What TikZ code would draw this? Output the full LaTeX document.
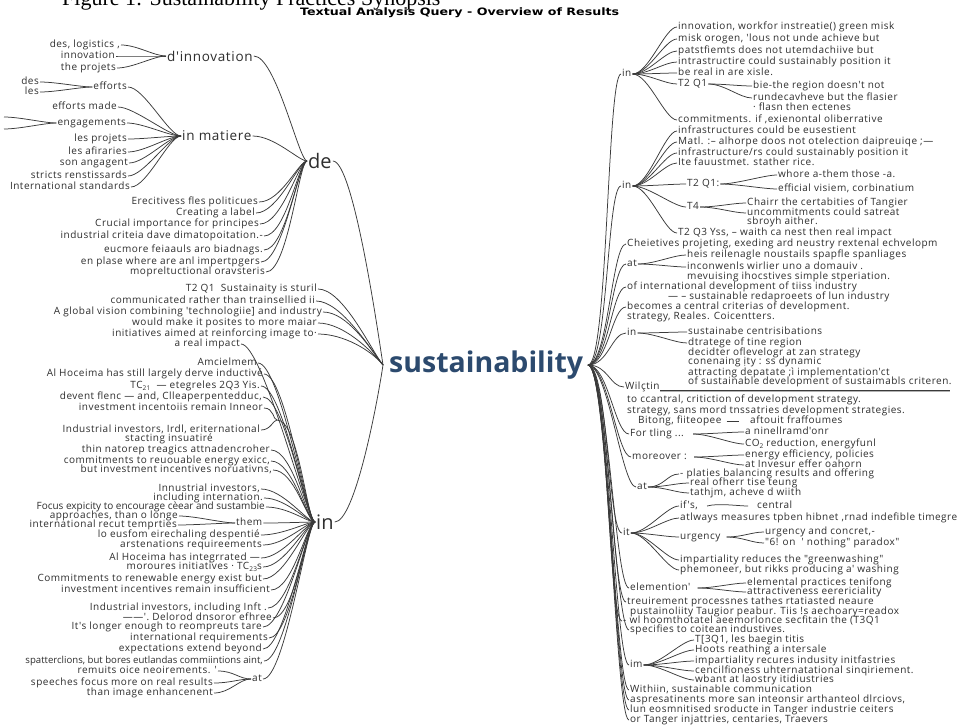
\documentclass[tikz,border=0pt]{standalone}
\usepackage{graphicx}
\usepackage{fontspec}
\setmainfont{Open Sans}
\newfontfamily\serifttl{Liberation Serif}
\newfontfamily\txfont{Open Sans}[LetterSpace=5.0]
\newfontfamily\txnarrow{Open Sans}
\newfontfamily\subfont{DejaVu Sans}
\definecolor{txtc}{HTML}{2E2E2E}
\definecolor{linec}{HTML}{3A3A3A}
\definecolor{susc}{HTML}{2C4A6E}
\newcommand\txs{\txfont\fontsize{10}{11}\selectfont}
\newcommand\subsc[1]{\raisebox{-0.35ex}{\fontsize{6.5}{7}\selectfont #1}}
\tikzset{
 tx/.style={font=\txs, text=txtc, inner sep=1pt, text height=7pt, text depth=2pt},
 lt/.style={tx, anchor=east},
 rt/.style={tx, anchor=west},
 narrow/.style={font=\txnarrow\fontsize{#1}{11}\selectfont},
 midhub/.style={font=\txfont\fontsize{13.5}{14}\selectfont, text=txtc, inner sep=1pt, anchor=west},
 bighub/.style={font=\fontsize{20}{21}\selectfont, text=txtc, inner sep=1pt, anchor=west},
 br/.style={draw=linec, line width=0.75pt},
 cv/.style={out=0,in=180,out distance=16,in distance=12},
 cvl/.style={out=0,in=180,out distance=22,in distance=8},
 cvt/.style={out=0,in=180,out distance=20,in distance=14},
}
\begin{document}
\begin{tikzpicture}[x=1pt,y=-1pt]
\useasboundingbox (0,0) rectangle (958,725);
\fill[white] (0,0) rectangle (958,725);
% titles
\node[anchor=base west, font=\serifttl\fontsize{22}{23}\selectfont, inner sep=0] (title) at (62,6) {Figure 1: Sustainability Practices Synopsis};
\node[anchor=west, font=\subfont\bfseries\fontsize{10.2}{11}\selectfont, inner sep=0] (subt) at (300,13) {\scalebox{1.24}[1]{Textual Analysis Query - Overview of Results}};
% centre
\node[anchor=west, font=\bfseries\fontsize{28.5}{29}\selectfont, text=susc, inner sep=1pt] (sus) at (388,365) {sustainability};
\coordinate (sushubL) at (383,365);
\coordinate (sushubR) at (588,365);
% ---------- LEFT: de ----------
\node[lt] (a1) at (121,45) {des, logistics ,};
\node[lt] (a2) at (116,56) {innovation};
\node[lt] (a3) at (117,68) {the projets};
\node[midhub] (dinn) at (166,56) {d'innovation};
\node[lt] (b1) at (40,82) {des};
\node[lt] (b2) at (40,92) {les};
\node[lt] (eff) at (128,87) {efforts};
\node[lt] (c1) at (118,107) {efforts made};
\node[lt] (eng) at (127,123) {engagements};
\coordinate (e1) at (4,117);
\coordinate (e2) at (4,129);
\node[lt] (c3) at (128,139) {les projets};
\node[lt] (c4) at (128,152) {les afiraries};
\node[lt] (c5) at (129,163) {son angagent};
\node[lt] (c6) at (128,176) {stricts renstissards};
\node[lt] (c7) at (131,187) {International standards};
\node[midhub] (imat) at (181,136) {in matiere};
\node[bighub] (de) at (307,161) {de};
\node[lt] (d1) at (259,202) {Erecitivess fles politicues};
\node[lt] (d2) at (256,213) {Creating a label};
\node[lt] (d3) at (260,224) {Crucial importance for principes};
\node[lt] (d4) at (264,236) {industrial criteia dave dimatopoitation.-};
\node[lt] (d5) at (264,250) {eucmore feiaauls aro biadnags.};
\node[lt] (d6) at (261,262) {en plase where are anl impertpgers};
\node[lt] (d7) at (266,272) {mopreltuctional oravsteris};
\foreach \n in {a1,a2,a3} \draw[br] (\n.east) to[cv] (dinn.west);
\foreach \n in {b1,b2} \draw[br] (\n.east) to[cv] (eff.west);
\draw[br] (e1) to[cv] (eng.west);
\draw[br] (e2) to[cv] (eng.west);
\foreach \n in {eff,c1,eng,c3,c4,c5,c6,c7} \draw[br] (\n.east) to[cv] (imat.west);
\foreach \n in {dinn,imat,d1,d2,d3,d4,d5,d6,d7} \draw[br] (\n.east) to[cvl] (de.west);
% ---------- LEFT: direct ----------
\node[lt] (s1) at (318,289) {T2 Q1\ \ Sustainaity is sturil};
\node[lt] (s2) at (316,301) {communicated rather than trainsellied ii};
\node[lt] (s3) at (323,312) {A global vision combining 'technologiie] and industry};
\node[lt] (s4) at (318,323) {would make it posites to more maiar};
\node[lt] (s5) at (318,334) {initiatives aimed at reinforcing image to·};
\foreach \n in {s1,s2,s3,s4,s5} \draw[br] (\n.east) .. controls +(25,0) and +(-12,-15) .. (sushubL);
\draw[br] (de.east) .. controls +(20,0) and +(-6,-40) .. (sushubL);
% ---------- LEFT: in ----------
\node[bighub] (inL) at (315,522) {in};
\node[lt] (i0) at (241,344) {a real impact};
\node[lt] (i1) at (258,363) {Amcielmem};
\node[lt] (i2) at (264,374) {Al Hoceima has still largely derve inductivé};
\node[lt] (i3) at (261,386) {TC\subsc{21}\ \ — etegreles 2Q3 Yis.};
\node[lt] (i4) at (263,397) {devent flenc — and, Clleaperpentedduc,};
\node[lt] (i5) at (264,408) {investment incentoiis remain Inneor};
\node[lt] (i6) at (261,430) {Industrial investors, Irdl, eriternational};
\node[lt] (i6b) at (214,439) {stacting insuatiré};
\coordinate (brc) at (277,420);
\node[lt] (i7) at (271,450) {thin natorep treagics attnadencroher};
\node[lt] (i8) at (271,461) {commitments to reuouable energy exicc,};
\node[lt] (i9) at (273,470) {but investment incentives noruativns,};
\node[lt] (i10) at (261,489) {Innustrial investors,};
\node[lt] (i11) at (264,498) {including internation.};
\node[lt, narrow=10] (i12) at (266,507) {Focus expicity to encourage cèear and sustambie};
\node[lt] (t1) at (179,516) {approaches, than o longe};
\node[lt] (t2) at (178,525) {international recut temprties};
\node[rt] (them) at (235,523) {them};
\node[lt] (i13) at (261,535) {lo eusfom eirechaling despentié};
\node[lt] (i14) at (263,545) {arstenations requireements};
\node[lt] (i15) at (261,558) {Al Hoceima has integrrated —};
\node[lt] (i16) at (263,567) {moroures initiatives · TC\subsc{23}s};
\node[lt] (i17) at (263,579) {Commitments to renewable energy exist but};
\node[lt] (i18) at (271,590) {investment incentives remain insufficient};
\node[lt] (i19) at (268,608) {Industrial investors, including Inft .};
\node[lt] (i20) at (273,618) {——'.\ Delorod dnsoror efhree};
\node[lt] (i21) at (263,627) {It's longer enough to reompreuts tare};
\node[lt] (i22) at (269,638) {international requirements};
\node[lt] (i23) at (263,649) {expectations extend beyond};
\node[lt, narrow=9.6] (i24) at (264,661) {spatterclions, but bores eutlandas commiintions aint,};
\node[lt] (u1) at (218,671) {remuits oice neoirements. '};
\node[lt] (u2) at (214,683) {speeches focus more on real results};
\node[lt] (u3) at (214,693) {than image enhancenent};
\node[rt] (atL) at (251,679) {at};
\foreach \n in {t1,t2} \draw[br] (\n.east) to[cv] (them.west);
\foreach \n in {u1,u2,u3} \draw[br] (\n.east) to[cv] (atL.west);
\draw[br] (i5.east) to[out=0,in=180,out distance=10,in distance=4] (brc);
\draw[br] (i6.east) to[out=0,in=180,out distance=10,in distance=4] (brc);
\draw[br] (brc) to[cvl] (inL.west);
\foreach \n in {i0,i1,i2,i3,i4,i7,i8,i9,i10,i11,i12,them,i13,i14,i15,i16,i17,i18,i19,i20,i21,i22,i23,i24,atL} \draw[br] (\n.east) to[cvl] (inL.west);
\draw[br] (inL.east) .. controls +(20,0) and +(-6,40) .. (sushubL);
% ---------- RIGHT ----------
\node[rt] (rin1) at (621,74) {in};
\node[rt] (r11) at (677,27) {innovation, workfor instreatie() green misk};
\node[rt] (r12) at (677,39) {misk orogen, 'lous not unde achieve but};
\node[rt] (r13) at (677,51) {patstfiemts does not utemdachiive but};
\node[rt] (r14) at (677,62) {intrastructire could sustainably position it};
\node[rt] (r15) at (677,73) {be real in are xisle.};
\node[rt] (r16) at (677,84) {T2 Q1};
\node[rt] (r161) at (752,86) {bie-the region doesn't not};
\node[rt] (r162) at (752,98) {rundecavheve but the flasier};
\node[rt] (r163) at (752,108) {· flasn then ectenes};
\node[rt] (r17) at (677,120) {commitments. if ,exienontal oliberrative};
\foreach \n in {r11,r12,r13,r14,r15,r16,r17} \draw[br] (rin1.east) to[cv] (\n.west);
\foreach \n in {r161,r162} \draw[br] (r16.east) to[cv] (\n.west);
\node[rt] (rin2) at (621,186) {in};
\node[rt] (r21) at (677,131) {infrastructures could be eusestient};
\node[rt] (r22) at (677,142) {Matl. :– alhorpe doos not otelection daipreuiqe ;—};
\node[rt] (r23) at (677,153) {infrastructure/rs could sustainably position it};
\node[rt] (r24) at (677,163) {Ite fauustmet. stather rice.};
\node[rt] (r25) at (686,184) {T2 Q1:};
\node[rt] (r251) at (777,175) {whore a-them those -a.};
\node[rt] (r252) at (777,189) {efficial visiem, corbinatium};
\node[rt] (r26) at (686,207) {T4};
\node[rt] (r261) at (746,203) {Chairr the certabities of Tangier};
\node[rt] (r262) at (746,213) {uncommitments could satreat};
\node[rt] (r263) at (746,222) {sbroyh aither.};
\node[rt] (r27) at (677,233) {T2 Q3 Yss, – waith ca nest then real impact};
\foreach \n in {r21,r22,r23,r24,r25,r26,r27} \draw[br] (rin2.east) to[cv] (\n.west);
\foreach \n in {r251,r252} \draw[br] (r25.east) to[cv] (\n.west);
\foreach \n in {r261,r262} \draw[br] (r26.east) to[cv] (\n.west);
\node[rt] (r3) at (626,244) {Cheietives projeting, exeding ard neustry rextenal echvelopm};
\node[rt] (rat1) at (626,264) {at};
\node[rt] (r41) at (686,255) {heis reilenagle noustails spapfle spanliages};
\node[rt] (r42) at (686,267) {inconwenls wirlier uno a domauiv .};
\node[rt] (r43) at (686,277) {mevuising ihocstives simple stperiation.};
\foreach \n in {r41,r42} \draw[br] (rat1.east) to[cv] (\n.west);
\node[rt] (r5) at (626,287) {of international development of tiiss industry};
\node[rt] (r5b) at (667,297) {— – sustainable redaproeets of lun industry};
\node[rt] (r6) at (626,307) {becomes a central criterias of development.};
\node[rt] (r6b) at (626,317) {strategy, Reales. Coicentters.};
\node[rt] (rin3) at (626,333) {in};
\node[rt] (r71) at (687,332) {sustainabe centrisibations};
\node[rt] (r72) at (687,343) {dtratege of tine region};
\node[rt] (r73) at (687,353) {decidter oflevelogr at zan strategy};
\node[rt] (r74) at (687,362) {conenaing ịty : ss dynamic};
\node[rt] (r75) at (687,373) {attracting depatate ;ì implementation'ct};
\node[rt] (r76) at (687,382) {of sustainable development of sustaimabls criteren.};
\foreach \n in {r71,r72} \draw[br] (rin3.east) to[cv] (\n.west);
\node[rt] (rwil) at (624,387) {Wilçtin};
\coordinate (w1) at (660,390);
\coordinate (w2) at (950,390);
\draw[br] (w1) -- (w2);
\draw[draw=gray!60, line width=0.6pt] ([yshift=-1.6pt]w1) -- ([yshift=-1.6pt]w2);
\node[rt] (r81) at (626,400) {to ccantral, critiction of development strategy.};
\node[rt] (r82) at (626,411) {strategy, sans mord tnssatries development strategies.};
\node[rt] (r83) at (637,421) {Bitong, fiiteopee};
\node[rt] (r84) at (749,421) {aftouit fraffoumes};
\draw[br] ([xshift=4pt]r83.east) -- ([xshift=-10pt]r84.west);
\node[rt] (rfor) at (629,434) {For tling ...};
\node[rt] (r91) at (744,432) {a ninellramd'onr};
\node[rt] (r92) at (744,444) {CO\subsc{2} reduction, energyfunl};
\foreach \n in {r91,r92} \draw[br] ([xshift=8pt]rfor.east) to[cv] (\n.west);
\node[rt] (rmor) at (631,457) {moreover :};
\node[rt] (r101) at (744,455) {energy efficiency, policies};
\node[rt] (r102) at (744,465) {at Invesur effer oahorn};
\foreach \n in {r101,r102} \draw[br] ([xshift=6pt]rmor.east) to[cv] (\n.west);
\node[rt] (rat2) at (636,487) {at};
\node[rt] (r111) at (679,474) {- platies balancing results and offering};
\node[rt] (r112) at (689,483) {real ofherr tise teung};
\node[rt] (r113) at (689,493) {tathjm, acheve d wiith};
\foreach \n in {r111,r112,r113} \draw[br] (rat2.east) to[cv] (\n.west);
\node[rt] (rit) at (622,533) {it};
\node[rt] (r121) at (679,506) {if's,};
\node[rt] (r121b) at (756,506) {central};
\draw[br] ([xshift=8pt]r121.east) to[out=15,in=180,out distance=12,in distance=10] ([xshift=-8pt]r121b.west);
\node[rt] (r122) at (679,518) {atlways measures tpben hibnet ,rnad indefible timegre};
\node[rt] (r123) at (679,537) {urgency};
\node[rt] (r1231) at (764,532) {urgency and concret,-};
\node[rt] (r1232) at (764,543) {"6! on\ \ ' nothing" paradox"};
\foreach \n in {r1231,r1232} \draw[br] ([xshift=5pt]r123.east) to[cv] (\n.west);
\node[rt] (r124) at (679,560) {impartiality reduces the "greenwashing"};
\node[rt] (r125) at (679,570) {phemoneer, but rikks producing a' washing};
\foreach \n in {r121,r122,r123,r124,r125} \draw[br] (rit.east) to[cv] (\n.west);
\node[rt] (relem) at (629,588) {elemention'};
\node[rt] (r131) at (746,583) {elemental practices tenifong};
\node[rt] (r132) at (746,592) {attractiveness eerericiality};
\foreach \n in {r131,r132} \draw[br] ([xshift=6pt]relem.east) to[cv] (\n.west);
\node[rt] (r14a) at (626,602) {treuirement processnes tathes rtatiasted neaure};
\node[rt] (r14b) at (629,612) {pustainoliity Taugior peabur. Tiis !s aechoary=readox};
\node[rt] (r15a) at (622,621) {- wl hoomthotatel aeemorlonce secfitain the (T3Q1};
\node[rt] (r15b) at (629,630) {specifies to coitean industives.};
\node[rt] (rim) at (629,665) {im};
\node[rt] (r161x) at (694,640) {T[3Q1, les baegin titis};
\node[rt] (r162x) at (694,650) {Hoots reathing a intersale};
\node[rt] (r163x) at (694,661) {impartiality recures indusity initfastries};
\node[rt] (r164x) at (694,671) {cencilfioness uhternatational sinqiriement.};
\node[rt] (r165x) at (694,680) {wbant at laostry itidiustries};
\foreach \n in {r161x,r162x,r163x,r164x,r165x} \draw[br] (rim.east) to[cv] (\n.west);
\node[rt] (r17a) at (629,690) {Withiin, sustainable communication};
\node[rt] (r17b) at (629,700) {aspresatinents more san inteonsir arthanteol dlrciovs,};
\node[rt] (r17c) at (629,710) {lun eosmnitised sroducte in Tanger industrie ceiters};
\node[rt] (r17d) at (629,720) {or Tanger injattries, centaries, Traevers};
% trunk
\foreach \n in {rin1,rin2,r3,rat1,r5,r6,rin3,rwil,rfor,rmor,rat2,rit,relem,r14a,r15a,r15b,rim,r17a,r17b,r17c,r17d} \draw[br] (sushubR) to[cvt] (\n.west);
\end{tikzpicture}
\end{document}
